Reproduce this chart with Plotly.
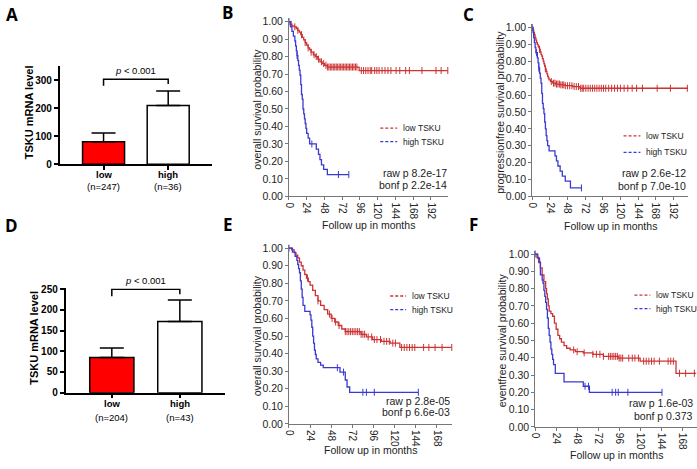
import numpy as np
import plotly.graph_objects as go

W, H = 697, 469
def fx(px): return px / W
def fy(py): return 1 - py / H

# ---------------- data ----------------
groups = ["low", "high"]
a_means = [80, 209]
a_err = [31, 52]
a_n = ["(n=247)", "(n=36)"]
a_bracket = [280, 303, 286]
d_means = [85, 172]
d_err = [23, 52]
d_n = ["(n=204)", "(n=43)"]
d_bracket = [233, 250, 238]
p_bar = "<i>p</i> < 0.001"

# Panel B: overall survival
b_low_t = [0, 2, 4, 7, 10, 12, 14, 16, 18, 20, 22, 24, 26, 28, 30, 33, 36, 39, 42, 45, 48, 52, 95]
b_low_s = [1.0, 0.985, 0.975, 0.97, 0.96, 0.95, 0.94, 0.925, 0.91, 0.895, 0.88, 0.865, 0.85, 0.84, 0.825, 0.81, 0.80, 0.785, 0.77, 0.76, 0.75, 0.74, 0.72]
b_low_end = 215
b_low_c = [3, 8, 12, 17, 22, 26, 30, 34, 37, 40, 44, 47, 50, 52, 54, 56, 58, 60, 62, 64, 66, 68, 70, 72, 74, 76, 78, 80, 82, 84, 86, 88, 90, 92, 98, 101, 104, 107, 110, 112, 116, 119, 122, 126, 130, 134, 138, 145, 150, 158, 163, 180, 199, 206, 215]
b_high_t = [0, 2, 4, 6, 8, 9, 10, 11, 12, 13, 14, 15, 16, 17, 18, 19, 20, 21, 22, 23, 24, 26, 28, 37, 40, 42, 44, 47, 52]
b_high_s = [1.0, 0.972, 0.944, 0.917, 0.889, 0.861, 0.833, 0.806, 0.778, 0.75, 0.722, 0.694, 0.639, 0.583, 0.556, 0.5, 0.472, 0.444, 0.417, 0.389, 0.361, 0.333, 0.30, 0.27, 0.24, 0.21, 0.18, 0.155, 0.125]
b_high_end = 81
b_high_c = [0, 11, 31, 67, 81]

# Panel C: progression-free survival
c_low_t = [0, 1, 2, 3, 4, 5, 6, 7, 8, 9, 10, 11, 12, 13, 14, 15, 16, 17, 18, 19, 20, 21, 22, 23, 25, 28, 32, 38, 45, 55, 65]
c_low_s = [1.0, 0.985, 0.97, 0.955, 0.94, 0.925, 0.91, 0.90, 0.89, 0.88, 0.87, 0.855, 0.84, 0.83, 0.815, 0.80, 0.785, 0.77, 0.755, 0.74, 0.725, 0.71, 0.70, 0.69, 0.68, 0.67, 0.665, 0.66, 0.655, 0.65, 0.64]
c_low_end = 212
c_low_c = [10, 18, 26, 29, 31, 33, 35, 37, 39, 41, 43, 45, 48, 51, 54, 57, 60, 63, 66, 68, 70, 73, 76, 79, 82, 85, 88, 91, 94, 97, 100, 104, 108, 112, 116, 120, 125, 130, 136, 142, 150, 170, 188, 211]
c_high_t = [0, 1, 2, 3, 4, 5, 7, 8, 9, 10, 11, 12, 13, 14, 15, 16, 17, 18, 19, 20, 21, 23, 31, 33, 35, 38, 41, 45, 52]
c_high_s = [1.0, 0.97, 0.94, 0.91, 0.88, 0.85, 0.82, 0.79, 0.76, 0.73, 0.70, 0.67, 0.61, 0.55, 0.52, 0.49, 0.44, 0.40, 0.36, 0.33, 0.30, 0.27, 0.24, 0.21, 0.18, 0.15, 0.12, 0.09, 0.05]
c_high_end = 67
c_high_c = [0, 6, 9, 67]

# Panel E: overall survival
e_low_t = [0, 3, 6, 8, 10, 12, 14, 16, 18, 20, 22, 24, 27, 30, 33, 36, 40, 44, 48, 52, 56, 60, 64, 82, 88, 95, 105, 115, 126]
e_low_s = [1.0, 0.99, 0.975, 0.96, 0.945, 0.92, 0.90, 0.875, 0.85, 0.83, 0.81, 0.79, 0.76, 0.73, 0.70, 0.675, 0.65, 0.625, 0.60, 0.58, 0.56, 0.54, 0.525, 0.51, 0.495, 0.48, 0.47, 0.46, 0.435]
e_low_end = 185
e_low_c = [21, 33, 46, 49, 53, 57, 64, 66, 68, 70, 72, 74, 76, 78, 80, 82, 84, 86, 90, 94, 97, 100, 104, 108, 111, 114, 118, 121, 128, 131, 134, 137, 140, 143, 153, 159, 166, 174, 185]
e_high_t = [0, 4, 7, 9, 10, 11, 12, 13, 14, 15, 16, 18, 24, 25, 26, 27, 28, 29, 30, 31, 33, 36, 39, 58, 64, 66, 69]
e_high_s = [1.0, 0.977, 0.953, 0.93, 0.907, 0.884, 0.86, 0.814, 0.767, 0.72, 0.674, 0.64, 0.62, 0.59, 0.55, 0.50, 0.46, 0.42, 0.395, 0.37, 0.35, 0.335, 0.32, 0.295, 0.25, 0.21, 0.18]
e_high_end = 147
e_high_c = [0, 55, 62, 84, 88, 97, 147]

# Panel F: event-free survival
f_low_t = [0, 2, 4, 6, 8, 10, 12, 13, 14, 15, 16, 18, 20, 22, 24, 26, 28, 30, 33, 36, 40, 46, 55, 66, 78, 95, 120, 161]
f_low_s = [1.0, 0.98, 0.95, 0.92, 0.88, 0.84, 0.80, 0.77, 0.74, 0.70, 0.67, 0.655, 0.64, 0.60, 0.565, 0.53, 0.51, 0.49, 0.47, 0.455, 0.445, 0.435, 0.428, 0.42, 0.408, 0.398, 0.38, 0.31]
f_low_end = 184
f_low_c = [44, 48, 56, 66, 70, 74, 78, 84, 86, 88, 90, 92, 94, 96, 98, 100, 107, 111, 114, 118, 124, 127, 130, 133, 136, 142, 152, 155, 158, 165, 172, 182]
f_high_t = [0, 3, 5, 6, 8, 9, 10, 11, 12, 13, 14, 15, 16, 17, 18, 19, 20, 21, 23, 33, 55, 62]
f_high_s = [1.0, 0.977, 0.953, 0.88, 0.85, 0.83, 0.79, 0.755, 0.72, 0.68, 0.63, 0.57, 0.53, 0.49, 0.45, 0.42, 0.39, 0.36, 0.31, 0.26, 0.235, 0.20]
f_high_end = 145
f_high_c = [0, 57, 61, 88, 92, 95, 106, 145]

km_yticks = [0, 0.1, 0.2, 0.3, 0.4, 0.5, 0.6, 0.7, 0.8, 0.9, 1.0]
bf_xticks = [0, 24, 48, 72, 96, 120, 144, 168, 192]
ef_xticks = [0, 24, 48, 72, 96, 120, 144, 168]
a_yticks = [0, 100, 200, 300]
d_yticks = [0, 50, 100, 150, 200, 250]

RED = "#cc3333"
BLUE = "#3a3ad0"
FONT = "Liberation Sans, Arial, sans-serif"
TXT = "#222222"

fig = go.Figure()
layout = dict(width=W, height=H, margin=dict(l=0, r=0, t=0, b=0),
              paper_bgcolor="white", plot_bgcolor="white", showlegend=False,
              font=dict(family=FONT, color=TXT))
annotations = []
shapes = []

def ann(**kw):
    kw.setdefault("showarrow", False)
    kw.setdefault("xanchor", "center")
    kw.setdefault("yanchor", "middle")
    annotations.append(kw)

def axn(n):
    return ("x" if n == 1 else f"x{n}"), ("y" if n == 1 else f"y{n}")

def axkey(n):
    return ("xaxis" if n == 1 else f"xaxis{n}"), ("yaxis" if n == 1 else f"yaxis{n}")

# ---------------- bar panels ----------------
def bar_panel(n, means, errs, nlabels, bracket, yr, yticks, xpx, ypx, ylab_px, xlab_py):
    xa, ya = axn(n)
    xk, yk = axkey(n)
    fig.add_trace(go.Bar(x=[0, 1], y=means, width=0.65,
                         marker=dict(color=["#ff0000", "#ffffff"], line=dict(color="black", width=1.5)),
                         error_y=dict(type="data", array=errs, arrayminus=[0, 0], symmetric=False,
                                      color="black", thickness=1.5, width=12),
                         xaxis=xa, yaxis=ya))
    fig.add_trace(go.Scatter(x=[0, 0, 1, 1], y=[bracket[0], bracket[1], bracket[1], bracket[2]],
                             mode="lines", line=dict(color="black", width=1.5),
                             cliponaxis=False, xaxis=xa, yaxis=ya))
    layout[xk] = dict(domain=[fx(xpx[0]), fx(xpx[1])], range=[-0.68, 1.67], anchor=ya,
                      showline=True, linecolor="black", linewidth=1.5, ticks="outside",
                      ticklen=4, tickwidth=1.5, tickcolor="black", tickvals=[0, 1],
                      showticklabels=False, showgrid=False, zeroline=False, fixedrange=True)
    layout[yk] = dict(domain=[fy(ypx[0]), fy(ypx[1])], range=yr, anchor=xa,
                      showline=True, linecolor="black", linewidth=1.5, ticks="outside",
                      ticklen=4, tickwidth=1.5, tickcolor="black", tickvals=yticks,
                      tickfont=dict(size=10, weight="bold", color="black"),
                      showgrid=False, zeroline=False)
    ann(x=0.5, y=bracket[1], xref=xa, yref=ya, text=p_bar, yanchor="bottom", yshift=1,
        font=dict(size=9.5, color="black"))
    for i, g in enumerate(groups):
        ann(x=i, y=fy(xlab_py[0]), xref=xa, yref="paper", text=f"<b>{g}</b>",
            font=dict(size=9.5, color="black"))
        ann(x=i, y=fy(xlab_py[1]), xref=xa, yref="paper", text=nlabels[i],
            font=dict(size=9.5, color="black"))
    ann(x=fx(ylab_px[0]), y=fy(ylab_px[1]), xref="paper", yref="paper",
        text="<b>TSKU mRNA level</b>", textangle=-90, font=dict(size=11, color="black"))

bar_panel(1, a_means, a_err, a_n, a_bracket, [0, 350], a_yticks, (55, 208), (163, 62.5), (25, 110), (174, 186))
bar_panel(4, d_means, d_err, d_n, d_bracket, [0, 252], d_yticks, (61, 222), (397, 290.2), (29, 341), (408, 422))

# ---------------- KM panels ----------------
def km_line(t, s, end, color, xa, ya):
    fig.add_trace(go.Scatter(x=list(t) + [end], y=list(s) + [s[-1]], mode="lines",
                             line=dict(shape="hv", color=color, width=1.3), xaxis=xa, yaxis=ya))

def km_cens(c, t, s, color, xa, ya):
    idx = np.searchsorted(np.array(t), np.array(c), side="right") - 1
    yv = np.array(s)[idx]
    fig.add_trace(go.Scatter(x=c, y=yv, mode="markers", cliponaxis=False,
                             marker=dict(symbol="line-ns-open", size=5, color=color,
                                         line=dict(color=color, width=1)),
                             xaxis=xa, yaxis=ya))

def km_panel(n, low, high, xr, xticks, xpx, ypx, ytitle, ytitle_px, xtitle_py,
             leg_px, ptxt, p_px):
    xa, ya = axn(n)
    xk, yk = axkey(n)
    km_line(low[0], low[1], low[2], RED, xa, ya)
    km_cens(low[3], low[0], low[1], RED, xa, ya)
    km_line(high[0], high[1], high[2], BLUE, xa, ya)
    km_cens(high[3], high[0], high[1], BLUE, xa, ya)
    layout[xk] = dict(domain=[fx(xpx[0]), fx(xpx[1])], range=xr, anchor=ya,
                      showline=True, linecolor="#777", linewidth=1, ticks="outside", ticklen=3,
                      tickcolor="#777", tickvals=xticks, tickangle=90,
                      tickfont=dict(size=10, color=TXT), showgrid=False, zeroline=False)
    layout[yk] = dict(domain=[fy(ypx[0]), fy(ypx[1])], range=[0, 1.02], anchor=xa,
                      showline=True, linecolor="#777", linewidth=1, ticks="outside", ticklen=3,
                      tickcolor="#777", tickvals=km_yticks, tickformat=".2f",
                      tickfont=dict(size=10.5, color=TXT), showgrid=False, zeroline=False)
    ann(x=fx(ytitle_px[0]), y=fy(ytitle_px[1]), xref="paper", yref="paper",
        text=ytitle, textangle=-90, font=dict(size=10.5, color=TXT))
    ann(x=(xpx[0] + xpx[1]) / 2 / W, y=fy(xtitle_py), xref="paper", yref="paper",
        text="Follow up in months", font=dict(size=10.5, color=TXT))
    # legend
    for lab, col, py in (("low TSKU", RED, leg_px[2]), ("high TSKU", BLUE, leg_px[3])):
        shapes.append(dict(type="line", xref="paper", yref="paper", x0=fx(leg_px[0]), x1=fx(leg_px[1]),
                           y0=fy(py), y1=fy(py), line=dict(color=col, width=1.3, dash="3px,2px")))
        ann(x=fx(leg_px[1] + 4), y=fy(py), xref="paper", yref="paper", text=lab,
            xanchor="left", font=dict(size=8.5, color=TXT))
    for txt, py in zip(ptxt, p_px[1:]):
        ann(x=fx(p_px[0]), y=fy(py), xref="paper", yref="paper", text=txt,
            xanchor="right", font=dict(size=10.5, color=TXT))

km_panel(2, (b_low_t, b_low_s, b_low_end, b_low_c), (b_high_t, b_high_s, b_high_end, b_high_c),
         [0, 215], bf_xticks, (286, 446), (196, 13.4), "overall survival probability", (254, 107), 225,
         (378, 395, 126, 140), ("raw p 8.2e-17", "bonf p 2.2e-14"), (447, 172, 184))
km_panel(3, (c_low_t, c_low_s, c_low_end, c_low_c), (c_high_t, c_high_s, c_high_end, c_high_c),
         [0, 212], bf_xticks, (531, 688), (196, 19.5), "progressionfree survival probability", (499, 110), 226,
         (623, 640, 134, 151), ("raw p 2.6e-12", "bonf p 7.0e-10"), (688, 172, 185))
km_panel(5, (e_low_t, e_low_s, e_low_end, e_low_c), (e_high_t, e_high_s, e_high_end, e_high_c),
         [0, 185], ef_xticks, (286, 450), (429, 245.4), "overall survival probability", (254, 339), 456,
         (388, 404, 298, 312), ("raw p 2.8e-05", "bonf p 6.6e-03"), (450, 405, 417))
km_panel(6, (f_low_t, f_low_s, f_low_end, f_low_c), (f_high_t, f_high_s, f_high_end, f_high_c),
         [0, 185], ef_xticks, (534, 697), (432, 251.5), "eventfree survival probability", (501, 343), 461,
         (634, 650, 297, 311), ("raw p 1.6e-03", "bonf p 0.373"), (695, 408, 421))

# panel letters
for letter, px, py in (("A", 7, 10), ("B", 224, 8), ("C", 467, 10), ("D", 7, 226), ("E", 225, 225), ("F", 472, 225)):
    ann(x=fx(px), y=fy(py), xref="paper", yref="paper", text=f"<b>{letter}</b>",
        font=dict(size=17, color="black", family="Open Sans, Liberation Sans, sans-serif"))

layout["annotations"] = annotations
layout["shapes"] = shapes
fig.update_layout(**layout)
fig.write_html("out.html", config={"displayModeBar": False},
               post_script="document.body.style.margin='0px';")
